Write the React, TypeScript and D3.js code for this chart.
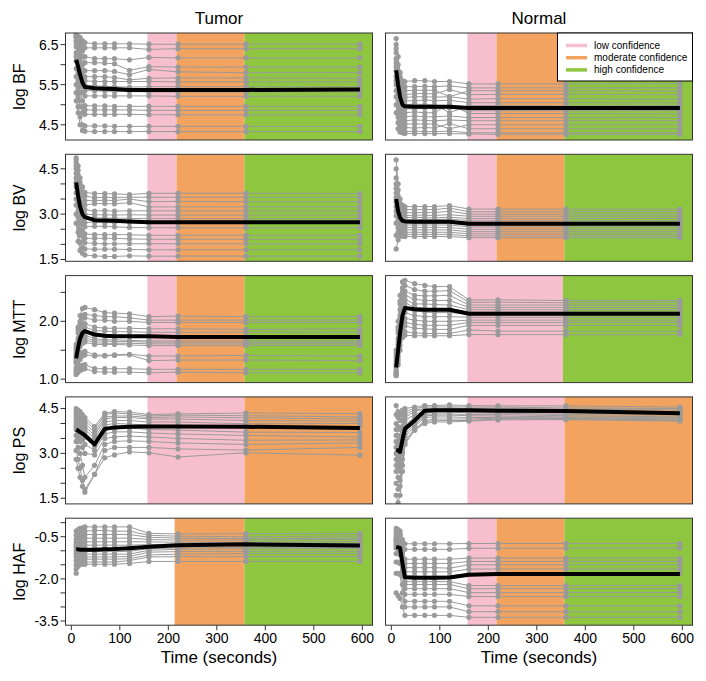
import React from 'react';
import * as d3 from 'd3';

// ---------- data ----------
const TIMES = [10, 14, 18, 23, 28, 48, 69, 89, 120, 160, 220, 360, 595];
const X_DOMAIN = [-12, 621];
const X_TICKS = [0, 100, 200, 300, 400, 500, 600];
const COLUMNS = ['Tumor', 'Normal'];
const LEVELS = ['low confidence', 'moderate confidence', 'high confidence'];
const LEVEL_COLORS = ['#F7BFCE', '#F2A35F', '#8EC640'];

const Y_DOMAIN_BF = [4.12, 6.79];
const Y_DOMAIN_BV = [1.44, 4.98];
const Y_DOMAIN_MTT = [0.94, 2.79];
const Y_DOMAIN_PS = [1.31, 4.89];
const Y_DOMAIN_HAF = [-3.65, 0.16];

const TICKS_BF = [4.5, 5.0, 5.5, 6.0, 6.5];
const LABELS_BF = [4.5, 5.5, 6.5];
const TICKS_BV = [1.5, 2.0, 2.5, 3.0, 3.5, 4.0, 4.5];
const LABELS_BV = [1.5, 3.0, 4.5];
const TICKS_MTT = [1.0, 1.5, 2.0, 2.5];
const LABELS_MTT = [1.0, 2.0];
const TICKS_PS = [1.5, 2.0, 2.5, 3.0, 3.5, 4.0, 4.5];
const LABELS_PS = [1.5, 3.0, 4.5];
const TICKS_HAF = [-3.5, -3.0, -2.5, -2.0, -1.5, -1.0, -0.5, 0.0];
const LABELS_HAF = [-3.5, -2.0, -0.5];

// zones: [start, end, level index]
const TUMOR_BF_ZONES = [[157, 217, 0], [217, 357, 1], [357, 621, 2]];
const TUMOR_BV_ZONES = [[157, 217, 0], [217, 357, 1], [357, 621, 2]];
const TUMOR_MTT_ZONES = [[157, 217, 0], [217, 357, 1], [357, 621, 2]];
const TUMOR_PS_ZONES = [[157, 357, 0], [357, 621, 1]];
const TUMOR_HAF_ZONES = [[213, 357, 1], [357, 621, 2]];
const NORMAL_BF_ZONES = [[157, 217, 0], [217, 357, 1], [357, 621, 2]];
const NORMAL_BV_ZONES = [[157, 217, 0], [217, 357, 1], [357, 621, 2]];
const NORMAL_MTT_ZONES = [[157, 354, 0], [354, 621, 2]];
const NORMAL_PS_ZONES = [[157, 357, 0], [357, 621, 1]];
const NORMAL_HAF_ZONES = [[157, 217, 0], [217, 357, 1], [357, 621, 2]];

const TUMOR_BF = [
  [6.72, 6.70, 6.68, 6.60, 6.55, 6.52, 6.52, 6.52, 6.52, 6.51, 6.51, 6.51, 6.51],
  [6.75, 6.70, 6.60, 6.50, 6.42, 6.42, 6.42, 6.42, 6.42, 6.38, 6.40, 6.40, 6.40],
  [6.70, 6.60, 6.50, 6.35, 6.20, 6.15, 6.15, 6.15, 6.12, 6.18, 6.17, 6.17, 6.17],
  [6.68, 6.55, 6.40, 6.20, 6.05, 6.05, 6.04, 6.02, 5.86, 5.95, 5.94, 5.94, 5.94],
  [6.60, 6.45, 6.25, 6.00, 5.85, 5.85, 5.85, 5.83, 5.75, 5.88, 5.82, 5.80, 5.80],
  [6.55, 6.30, 6.10, 5.85, 5.70, 5.70, 5.70, 5.68, 5.62, 5.66, 5.67, 5.67, 5.66],
  [6.45, 6.20, 5.95, 5.75, 5.60, 5.58, 5.58, 5.58, 5.58, 5.58, 5.57, 5.57, 5.57],
  [6.30, 6.05, 5.80, 5.60, 5.48, 5.47, 5.46, 5.45, 5.44, 5.45, 5.45, 5.45, 5.45],
  [6.20, 5.90, 5.60, 5.45, 5.35, 5.35, 5.34, 5.33, 5.33, 5.32, 5.32, 5.32, 5.32],
  [6.10, 5.80, 5.50, 5.30, 5.22, 5.22, 5.22, 5.22, 5.22, 5.22, 5.21, 5.21, 5.21],
  [5.90, 5.60, 5.30, 5.10, 4.98, 4.97, 4.97, 4.96, 4.96, 4.96, 4.96, 4.96, 4.96],
  [5.70, 5.40, 5.10, 4.95, 4.87, 4.87, 4.87, 4.87, 4.87, 4.86, 4.86, 4.86, 4.86],
  [5.50, 5.20, 4.95, 4.80, 4.76, 4.76, 4.76, 4.76, 4.76, 4.75, 4.75, 4.75, 4.75],
  [5.30, 4.95, 4.70, 4.50, 4.47, 4.47, 4.47, 4.46, 4.46, 4.46, 4.46, 4.46, 4.46],
  [5.10, 4.80, 4.50, 4.36, 4.34, 4.33, 4.33, 4.33, 4.33, 4.33, 4.33, 4.33, 4.33],
];
const TUMOR_BF_MEAN = [6.12, 5.95, 5.75, 5.55, 5.44, 5.41, 5.40, 5.39, 5.37, 5.37, 5.37, 5.37, 5.38];

const NORMAL_BF = [
  [6.65, 6.20, 5.80, 5.60, 5.58, 5.60, 5.60, 5.58, 5.58, 5.52, 5.52, 5.52, 5.53],
  [6.50, 6.00, 5.70, 5.50, 5.45, 5.45, 5.46, 5.45, 5.47, 5.42, 5.42, 5.42, 5.42],
  [6.40, 5.85, 5.55, 5.40, 5.35, 5.36, 5.36, 5.36, 5.20, 5.35, 5.35, 5.35, 5.34],
  [6.30, 5.75, 5.45, 5.30, 5.25, 5.28, 5.28, 5.27, 5.38, 5.25, 5.26, 5.26, 5.25],
  [6.15, 5.60, 5.35, 5.20, 5.18, 5.20, 5.20, 5.19, 5.20, 5.14, 5.15, 5.15, 5.14],
  [6.05, 5.50, 5.25, 5.12, 5.10, 5.10, 5.12, 5.10, 5.11, 5.05, 5.05, 5.05, 5.05],
  [5.95, 5.40, 5.15, 5.02, 5.00, 5.02, 5.00, 5.00, 4.80, 4.98, 4.98, 4.97, 4.98],
  [5.85, 5.30, 5.05, 4.92, 4.90, 4.90, 4.92, 4.90, 4.92, 4.85, 4.85, 4.85, 4.85],
  [5.70, 5.20, 4.95, 4.82, 4.80, 4.82, 4.80, 4.80, 5.02, 4.78, 4.78, 4.78, 4.77],
  [5.60, 5.10, 4.85, 4.72, 4.70, 4.72, 4.70, 4.70, 4.72, 4.68, 4.68, 4.68, 4.68],
  [5.50, 5.00, 4.75, 4.62, 4.60, 4.62, 4.61, 4.60, 4.62, 4.60, 4.60, 4.60, 4.60],
  [5.35, 4.85, 4.62, 4.55, 4.52, 4.52, 4.52, 4.52, 4.40, 4.50, 4.50, 4.50, 4.50],
  [5.20, 4.70, 4.50, 4.45, 4.43, 4.42, 4.43, 4.42, 4.53, 4.40, 4.40, 4.40, 4.40],
  [5.00, 4.55, 4.40, 4.35, 4.33, 4.34, 4.33, 4.33, 4.34, 4.30, 4.30, 4.30, 4.30],
  [4.80, 4.40, 4.32, 4.30, 4.28, 4.28, 4.28, 4.28, 4.28, 4.27, 4.26, 4.26, 4.26],
];
const NORMAL_BF_MEAN = [5.86, 5.50, 5.20, 5.00, 4.96, 4.95, 4.95, 4.95, 4.95, 4.92, 4.92, 4.92, 4.92];

const TUMOR_BV = [
  [4.86, 4.60, 4.20, 3.90, 3.72, 3.68, 3.68, 3.67, 3.65, 3.69, 3.69, 3.69, 3.68],
  [4.80, 4.45, 4.05, 3.75, 3.60, 3.55, 3.56, 3.55, 3.56, 3.56, 3.56, 3.56, 3.56],
  [4.70, 4.30, 3.90, 3.60, 3.45, 3.45, 3.46, 3.45, 3.50, 3.41, 3.42, 3.41, 3.41],
  [4.60, 4.15, 3.70, 3.40, 3.30, 3.35, 3.35, 3.34, 3.38, 3.24, 3.24, 3.24, 3.24],
  [4.50, 4.00, 3.55, 3.25, 3.15, 3.10, 3.12, 3.10, 3.11, 3.11, 3.11, 3.11, 3.11],
  [4.35, 3.85, 3.40, 3.10, 3.00, 2.98, 2.98, 2.97, 2.98, 2.97, 2.97, 2.97, 2.97],
  [4.20, 3.70, 3.25, 2.95, 2.88, 2.88, 2.87, 2.87, 2.86, 2.85, 2.85, 2.85, 2.85],
  [4.05, 3.50, 3.10, 2.80, 2.72, 2.74, 2.72, 2.72, 2.72, 2.70, 2.70, 2.70, 2.70],
  [3.90, 3.35, 2.90, 2.65, 2.58, 2.60, 2.60, 2.58, 2.56, 2.55, 2.55, 2.55, 2.55],
  [3.70, 3.10, 2.70, 2.45, 2.35, 2.32, 2.32, 2.32, 2.32, 2.30, 2.30, 2.30, 2.30],
  [3.50, 2.90, 2.50, 2.30, 2.20, 2.20, 2.20, 2.20, 2.18, 2.17, 2.17, 2.17, 2.17],
  [3.30, 2.70, 2.30, 2.10, 2.05, 2.03, 2.02, 2.02, 2.02, 2.02, 2.02, 2.02, 2.02],
  [3.00, 2.40, 2.05, 1.90, 1.85, 1.84, 1.84, 1.84, 1.83, 1.82, 1.82, 1.82, 1.82],
  [2.70, 2.10, 1.80, 1.70, 1.65, 1.62, 1.60, 1.60, 1.62, 1.61, 1.61, 1.61, 1.61],
];
const TUMOR_BV_MEAN = [4.05, 3.60, 3.25, 3.00, 2.90, 2.80, 2.79, 2.78, 2.76, 2.73, 2.73, 2.73, 2.73];

const NORMAL_BV = [
  [4.80, 4.00, 3.50, 3.30, 3.25, 3.25, 3.25, 3.25, 3.28, 3.17, 3.17, 3.17, 3.17],
  [4.50, 3.80, 3.35, 3.20, 3.15, 3.15, 3.15, 3.15, 3.20, 3.08, 3.08, 3.08, 3.08],
  [4.20, 3.60, 3.20, 3.10, 3.05, 3.05, 3.05, 3.05, 3.10, 3.00, 3.00, 3.00, 3.00],
  [4.00, 3.45, 3.10, 3.00, 2.95, 2.97, 2.96, 2.96, 2.98, 2.93, 2.93, 2.93, 2.93],
  [3.85, 3.30, 3.00, 2.92, 2.88, 2.90, 2.88, 2.88, 2.90, 2.85, 2.85, 2.85, 2.86],
  [3.70, 3.20, 2.92, 2.85, 2.82, 2.82, 2.82, 2.82, 2.84, 2.78, 2.78, 2.78, 2.78],
  [3.55, 3.10, 2.85, 2.78, 2.75, 2.76, 2.76, 2.76, 2.76, 2.72, 2.72, 2.72, 2.72],
  [3.40, 3.00, 2.78, 2.72, 2.70, 2.70, 2.70, 2.70, 2.70, 2.65, 2.65, 2.65, 2.65],
  [3.25, 2.90, 2.72, 2.66, 2.64, 2.64, 2.64, 2.64, 2.64, 2.58, 2.58, 2.58, 2.58],
  [3.10, 2.80, 2.62, 2.58, 2.56, 2.56, 2.56, 2.56, 2.56, 2.50, 2.50, 2.50, 2.50],
  [2.95, 2.70, 2.55, 2.50, 2.48, 2.48, 2.48, 2.48, 2.48, 2.42, 2.42, 2.42, 2.42],
  [2.70, 2.55, 2.46, 2.42, 2.40, 2.40, 2.40, 2.40, 2.40, 2.35, 2.35, 2.35, 2.35],
  [2.30, 2.40, 2.36, 2.34, 2.33, 2.33, 2.33, 2.33, 2.33, 2.28, 2.28, 2.28, 2.28],
  [1.85, 2.15, 2.28, 2.27, 2.26, 2.26, 2.26, 2.26, 2.26, 2.22, 2.22, 2.22, 2.22],
];
const NORMAL_BV_MEAN = [3.50, 3.10, 2.88, 2.78, 2.76, 2.75, 2.75, 2.75, 2.75, 2.68, 2.68, 2.68, 2.68];

const TUMOR_MTT = [
  [1.60, 1.90, 2.10, 2.22, 2.24, 2.20, 2.15, 2.14, 2.13, 2.08, 2.09, 2.08, 2.08],
  [1.55, 1.85, 2.00, 2.10, 2.12, 2.10, 2.08, 2.08, 2.06, 2.02, 2.02, 2.02, 2.02],
  [1.50, 1.80, 1.95, 2.05, 2.06, 2.02, 2.02, 2.00, 2.00, 1.98, 1.98, 1.98, 1.98],
  [1.45, 1.70, 1.85, 1.95, 1.96, 1.90, 1.88, 1.88, 1.88, 1.87, 1.87, 1.86, 1.87],
  [1.42, 1.65, 1.80, 1.88, 1.90, 1.84, 1.83, 1.82, 1.82, 1.81, 1.81, 1.81, 1.81],
  [1.38, 1.60, 1.72, 1.80, 1.82, 1.76, 1.75, 1.74, 1.74, 1.73, 1.73, 1.73, 1.73],
  [1.35, 1.55, 1.68, 1.75, 1.76, 1.70, 1.68, 1.68, 1.67, 1.66, 1.66, 1.66, 1.66],
  [1.32, 1.50, 1.62, 1.70, 1.72, 1.66, 1.66, 1.65, 1.65, 1.64, 1.64, 1.64, 1.64],
  [1.30, 1.48, 1.60, 1.66, 1.68, 1.63, 1.62, 1.62, 1.62, 1.61, 1.61, 1.61, 1.61],
  [1.28, 1.45, 1.56, 1.62, 1.64, 1.60, 1.60, 1.60, 1.59, 1.58, 1.58, 1.58, 1.58],
  [1.20, 1.32, 1.42, 1.46, 1.48, 1.42, 1.41, 1.42, 1.43, 1.40, 1.40, 1.41, 1.40],
  [1.16, 1.26, 1.34, 1.40, 1.42, 1.40, 1.40, 1.41, 1.42, 1.32, 1.33, 1.33, 1.32],
  [1.12, 1.18, 1.22, 1.24, 1.25, 1.18, 1.18, 1.18, 1.18, 1.17, 1.17, 1.17, 1.17],
  [1.08, 1.12, 1.15, 1.17, 1.18, 1.13, 1.12, 1.12, 1.12, 1.11, 1.12, 1.11, 1.11],
];
const TUMOR_MTT_MEAN = [1.36, 1.55, 1.70, 1.80, 1.83, 1.77, 1.75, 1.74, 1.74, 1.74, 1.73, 1.73, 1.73];

const NORMAL_MTT = [
  [1.50, 2.00, 2.45, 2.68, 2.71, 2.65, 2.62, 2.60, 2.60, 2.37, 2.37, 2.36, 2.36],
  [1.45, 1.90, 2.35, 2.58, 2.62, 2.55, 2.52, 2.52, 2.53, 2.33, 2.33, 2.32, 2.33],
  [1.40, 1.85, 2.30, 2.50, 2.52, 2.45, 2.44, 2.44, 2.45, 2.28, 2.28, 2.28, 2.28],
  [1.35, 1.80, 2.20, 2.42, 2.45, 2.38, 2.36, 2.36, 2.36, 2.24, 2.24, 2.24, 2.24],
  [1.30, 1.70, 2.10, 2.35, 2.38, 2.30, 2.30, 2.29, 2.28, 2.20, 2.20, 2.20, 2.20],
  [1.25, 1.65, 2.05, 2.28, 2.32, 2.24, 2.22, 2.22, 2.22, 2.16, 2.16, 2.16, 2.16],
  [1.20, 1.60, 2.00, 2.22, 2.25, 2.18, 2.16, 2.15, 2.15, 2.13, 2.13, 2.13, 2.13],
  [1.15, 1.50, 1.90, 2.12, 2.15, 2.10, 2.08, 2.08, 2.08, 2.07, 2.07, 2.07, 2.07],
  [1.12, 1.45, 1.80, 2.02, 2.05, 2.02, 2.00, 2.00, 2.00, 2.02, 2.02, 2.02, 2.02],
  [1.10, 1.40, 1.72, 1.95, 1.98, 1.95, 1.93, 1.93, 1.93, 1.98, 1.98, 1.98, 1.98],
  [1.08, 1.35, 1.65, 1.88, 1.92, 1.88, 1.87, 1.86, 1.86, 1.93, 1.93, 1.93, 1.93],
  [1.07, 1.30, 1.58, 1.80, 1.82, 1.80, 1.79, 1.79, 1.79, 1.85, 1.83, 1.83, 1.83],
  [1.06, 1.25, 1.50, 1.72, 1.76, 1.75, 1.75, 1.75, 1.75, 1.77, 1.77, 1.77, 1.77],
];
const NORMAL_MTT_MEAN = [1.20, 1.50, 1.80, 2.10, 2.23, 2.21, 2.20, 2.20, 2.20, 2.13, 2.13, 2.13, 2.13];

const TUMOR_PS = [
  [4.50, 4.45, 4.40, 4.30, 4.20, 3.90, 4.35, 4.40, 4.38, 4.30, 4.32, 4.35, 4.33],
  [4.40, 4.35, 4.30, 4.20, 4.10, 3.80, 4.30, 4.35, 4.32, 4.25, 4.28, 4.26, 4.22],
  [4.30, 4.25, 4.20, 4.10, 4.00, 3.70, 4.22, 4.25, 4.25, 4.20, 4.22, 4.19, 4.15],
  [4.20, 4.15, 4.10, 4.00, 3.90, 3.60, 4.15, 4.20, 4.20, 4.15, 4.15, 4.10, 4.08],
  [4.10, 4.05, 4.00, 3.90, 3.80, 3.50, 4.05, 4.10, 4.10, 4.05, 4.05, 3.99, 4.00],
  [4.00, 3.95, 3.90, 3.80, 3.70, 3.40, 3.95, 4.00, 3.98, 3.95, 3.92, 3.88, 3.90],
  [3.90, 3.85, 3.80, 3.65, 3.55, 3.25, 3.80, 3.85, 3.85, 3.80, 3.78, 3.71, 3.70],
  [3.80, 3.70, 3.60, 3.45, 3.30, 3.10, 3.65, 3.72, 3.72, 3.68, 3.65, 3.60, 3.55],
  [3.60, 3.50, 3.40, 3.20, 3.00, 2.95, 3.50, 3.55, 3.58, 3.55, 3.50, 3.44, 3.45],
  [3.40, 3.20, 3.00, 2.60, 2.20, 2.60, 3.30, 3.40, 3.42, 3.40, 3.35, 3.30, 3.35],
  [3.10, 2.80, 2.50, 2.10, 1.80, 2.30, 3.10, 3.20, 3.20, 3.20, 3.15, 3.11, 3.20],
  [2.80, 2.50, 2.20, 1.90, 1.70, 2.30, 2.85, 2.95, 3.05, 3.02, 2.88, 3.02, 2.94],
];
const TUMOR_PS_MEAN = [3.80, 3.76, 3.71, 3.66, 3.60, 3.30, 3.82, 3.87, 3.89, 3.90, 3.90, 3.89, 3.85];

const NORMAL_PS = [
  [4.60, 4.40, 4.30, 4.45, 4.50, 4.55, 4.60, 4.60, 4.62, 4.60, 4.59, 4.59, 4.55],
  [4.30, 4.20, 4.10, 4.30, 4.40, 4.50, 4.55, 4.56, 4.56, 4.55, 4.55, 4.52, 4.50],
  [4.00, 3.90, 3.80, 4.10, 4.30, 4.45, 4.50, 4.52, 4.52, 4.50, 4.50, 4.48, 4.45],
  [3.80, 3.60, 3.50, 3.90, 4.20, 4.40, 4.48, 4.48, 4.50, 4.45, 4.45, 4.43, 4.40],
  [3.60, 3.40, 3.30, 3.70, 4.10, 4.30, 4.42, 4.45, 4.45, 4.42, 4.40, 4.39, 4.35],
  [3.40, 3.30, 3.20, 3.60, 3.95, 4.20, 4.40, 4.42, 4.42, 4.40, 4.38, 4.35, 4.30],
  [3.20, 3.10, 3.00, 3.45, 3.85, 4.10, 4.35, 4.38, 4.38, 4.36, 4.35, 4.30, 4.28],
  [3.00, 2.90, 2.80, 3.30, 3.75, 4.00, 4.30, 4.32, 4.32, 4.30, 4.30, 4.26, 4.22],
  [2.80, 2.70, 2.60, 3.20, 3.65, 3.95, 4.25, 4.28, 4.28, 4.26, 4.25, 4.22, 4.20],
  [2.60, 2.50, 2.40, 3.00, 3.55, 3.90, 4.20, 4.22, 4.22, 4.20, 4.20, 4.19, 4.15],
  [2.40, 2.20, 2.10, 2.80, 3.45, 3.80, 4.10, 4.15, 4.15, 4.15, 4.18, 4.17, 4.12],
  [2.00, 1.80, 1.90, 2.60, 3.35, 3.78, 4.05, 4.10, 4.10, 4.10, 4.15, 4.15, 4.10],
  [1.60, 1.35, 1.60, 2.40, 3.30, 3.77, 4.00, 4.05, 4.05, 4.08, 4.12, 4.13, 4.08],
];
const NORMAL_PS_MEAN = [3.12, 3.10, 3.05, 3.45, 3.82, 4.10, 4.43, 4.44, 4.44, 4.44, 4.43, 4.42, 4.34];

const TUMOR_HAF = [
  [-0.30, -0.25, -0.20, -0.18, -0.15, -0.15, -0.15, -0.15, -0.15, -0.38, -0.40, -0.39, -0.38],
  [-0.45, -0.40, -0.35, -0.30, -0.30, -0.28, -0.28, -0.30, -0.30, -0.45, -0.48, -0.50, -0.47],
  [-0.60, -0.50, -0.48, -0.45, -0.42, -0.42, -0.42, -0.42, -0.42, -0.52, -0.55, -0.57, -0.55],
  [-0.70, -0.62, -0.58, -0.55, -0.55, -0.55, -0.55, -0.55, -0.55, -0.60, -0.62, -0.62, -0.60],
  [-0.80, -0.72, -0.70, -0.68, -0.68, -0.68, -0.68, -0.68, -0.68, -0.68, -0.70, -0.70, -0.68],
  [-0.90, -0.85, -0.82, -0.80, -0.80, -0.80, -0.80, -0.80, -0.80, -0.78, -0.76, -0.74, -0.74],
  [-1.00, -0.95, -0.92, -0.92, -0.92, -0.92, -0.92, -0.92, -0.92, -0.85, -0.82, -0.80, -0.80],
  [-1.10, -1.05, -1.02, -1.02, -1.02, -1.03, -1.03, -1.03, -1.02, -0.92, -0.90, -0.88, -0.88],
  [-1.20, -1.15, -1.12, -1.12, -1.12, -1.12, -1.12, -1.12, -1.12, -0.98, -0.95, -0.93, -0.92],
  [-1.35, -1.25, -1.22, -1.22, -1.22, -1.22, -1.22, -1.22, -1.20, -1.05, -1.03, -1.02, -1.02],
  [-1.50, -1.35, -1.30, -1.30, -1.30, -1.30, -1.30, -1.30, -1.28, -1.15, -1.12, -1.10, -1.10],
  [-1.65, -1.45, -1.40, -1.40, -1.40, -1.40, -1.40, -1.40, -1.35, -1.22, -1.21, -1.21, -1.21],
  [-1.80, -1.55, -1.48, -1.48, -1.48, -1.48, -1.48, -1.48, -1.45, -1.38, -1.38, -1.38, -1.38],
];
const TUMOR_HAF_MEAN = [-0.95, -0.95, -0.96, -0.96, -0.96, -0.96, -0.95, -0.94, -0.91, -0.86, -0.80, -0.77, -0.81];

const NORMAL_HAF = [
  [-0.20, -0.25, -0.30, -0.60, -0.75, -0.75, -0.75, -0.75, -0.75, -0.74, -0.74, -0.74, -0.74],
  [-0.30, -0.35, -0.40, -0.70, -0.95, -0.95, -0.95, -0.95, -0.95, -0.91, -0.91, -0.91, -0.90],
  [-0.40, -0.42, -0.45, -0.90, -1.30, -1.30, -1.30, -1.30, -1.30, -1.26, -1.26, -1.26, -1.26],
  [-0.50, -0.50, -0.55, -1.00, -1.45, -1.45, -1.45, -1.45, -1.45, -1.38, -1.38, -1.38, -1.38],
  [-0.55, -0.60, -0.62, -1.10, -1.60, -1.60, -1.60, -1.60, -1.62, -1.50, -1.50, -1.50, -1.50],
  [-0.60, -0.65, -0.68, -1.20, -1.75, -1.75, -1.75, -1.75, -1.75, -1.65, -1.65, -1.65, -1.65],
  [-0.65, -0.70, -0.72, -1.30, -1.90, -1.90, -1.92, -1.90, -1.90, -1.81, -1.81, -1.81, -1.81],
  [-0.70, -0.72, -0.75, -1.40, -2.10, -2.10, -2.10, -2.10, -2.10, -2.24, -2.24, -2.24, -2.24],
  [-0.80, -0.82, -0.85, -1.50, -2.20, -2.20, -2.20, -2.20, -2.20, -2.35, -2.35, -2.35, -2.35],
  [-0.90, -0.92, -0.95, -1.70, -2.35, -2.35, -2.35, -2.35, -2.35, -2.49, -2.49, -2.49, -2.49],
  [-1.10, -1.10, -1.15, -1.90, -2.55, -2.55, -2.55, -2.55, -2.55, -2.63, -2.63, -2.63, -2.63],
  [-1.40, -1.40, -1.45, -2.20, -2.80, -2.80, -2.80, -2.80, -2.80, -2.96, -2.96, -2.96, -2.96],
  [-1.80, -1.80, -1.85, -2.50, -3.00, -3.00, -3.00, -3.00, -3.00, -3.17, -3.17, -3.17, -3.17],
  [-2.50, -2.60, -2.70, -3.00, -3.30, -3.30, -3.30, -3.30, -3.30, -3.37, -3.37, -3.37, -3.37],
];
const NORMAL_HAF_MEAN = [-0.86, -0.88, -0.90, -1.45, -1.94, -1.96, -1.96, -1.96, -1.95, -1.85, -1.83, -1.83, -1.83];

const ROWS = [
  { name: 'BF', domain: Y_DOMAIN_BF, ticks: TICKS_BF, labels: LABELS_BF,
    data: [TUMOR_BF, NORMAL_BF], means: [TUMOR_BF_MEAN, NORMAL_BF_MEAN], zones: [TUMOR_BF_ZONES, NORMAL_BF_ZONES] },
  { name: 'BV', domain: Y_DOMAIN_BV, ticks: TICKS_BV, labels: LABELS_BV,
    data: [TUMOR_BV, NORMAL_BV], means: [TUMOR_BV_MEAN, NORMAL_BV_MEAN], zones: [TUMOR_BV_ZONES, NORMAL_BV_ZONES] },
  { name: 'MTT', domain: Y_DOMAIN_MTT, ticks: TICKS_MTT, labels: LABELS_MTT,
    data: [TUMOR_MTT, NORMAL_MTT], means: [TUMOR_MTT_MEAN, NORMAL_MTT_MEAN], zones: [TUMOR_MTT_ZONES, NORMAL_MTT_ZONES] },
  { name: 'PS', domain: Y_DOMAIN_PS, ticks: TICKS_PS, labels: LABELS_PS,
    data: [TUMOR_PS, NORMAL_PS], means: [TUMOR_PS_MEAN, NORMAL_PS_MEAN], zones: [TUMOR_PS_ZONES, NORMAL_PS_ZONES] },
  { name: 'HAF', domain: Y_DOMAIN_HAF, ticks: TICKS_HAF, labels: LABELS_HAF,
    data: [TUMOR_HAF, NORMAL_HAF], means: [TUMOR_HAF_MEAN, NORMAL_HAF_MEAN], zones: [TUMOR_HAF_ZONES, NORMAL_HAF_ZONES] },
];

// ---------- layout ----------
const W = 706;
const H = 681;
const COL_X = [[65.5, 372.5], [385.5, 692.5]];
const ROW_TOP = 33;
const ROW_STEP = 121.3;
const ROW_H = 107;
const FONT = "Arial, 'Liberation Sans', Helvetica, sans-serif";
const GRAY = '#9a9a9a';

export default function App() {
  const xs = COL_X.map((r) => d3.scaleLinear().domain(X_DOMAIN).range(r));
  const fmt = (v: number) => v.toFixed(1);

  return (
    <svg width={W} height={H} style={{ position: 'absolute', left: 0, top: 0 }} fontFamily={FONT}>
      <rect x={0} y={0} width={W} height={H} fill="#fff" />
      <defs>
        {ROWS.map((row, ri) =>
          COL_X.map((cx, ci) => (
            <clipPath id={`clip-${ri}-${ci}`} key={`c${ri}-${ci}`}>
              <rect x={cx[0]} y={ROW_TOP + ri * ROW_STEP} width={cx[1] - cx[0]} height={ROW_H} />
            </clipPath>
          ))
        )}
      </defs>
      {COLUMNS.map((c, ci) => (
        <text key={c} x={(COL_X[ci][0] + COL_X[ci][1]) / 2} y={24} textAnchor="middle" fontSize={17} fill="#000">
          {c}
        </text>
      ))}
      {ROWS.map((row, ri) => {
        const top = ROW_TOP + ri * ROW_STEP;
        const y = d3.scaleLinear().domain(row.domain).range([top + ROW_H, top]);
        return (
          <g key={row.name}>
            {COL_X.map((cx, ci) => {
              const x = xs[ci];
              const line = d3.line<number>().x((_, i) => x(TIMES[i])).y((v) => y(v));
              return (
                <g key={ci}>
                  <g clipPath={`url(#clip-${ri}-${ci})`}>
                    {row.zones[ci].map((z, zi) => (
                      <rect key={zi} x={x(z[0])} y={top} width={x(z[1]) - x(z[0])} height={ROW_H} fill={LEVEL_COLORS[z[2]]} />
                    ))}
                    {row.data[ci].map((s, si) => (
                      <path key={`l${si}`} d={line(s) || ''} fill="none" stroke={GRAY} strokeWidth={1} />
                    ))}
                    {row.data[ci].map((s, si) =>
                      s.map((v, i) => <circle key={`p${si}-${i}`} cx={x(TIMES[i])} cy={y(v)} r={2.6} fill={GRAY} />)
                    )}
                    <path d={line(row.means[ci]) || ''} fill="none" stroke="#000" strokeWidth={4} strokeLinejoin="round" />
                  </g>
                  <rect x={cx[0]} y={top} width={cx[1] - cx[0]} height={ROW_H} fill="none" stroke="#333" strokeWidth={1} />
                  {ci === 0 && (
                    <g>
                      {row.ticks.map((t) => (
                        <line key={t} x1={cx[0] - 5} x2={cx[0]} y1={y(t)} y2={y(t)} stroke="#333" strokeWidth={1} />
                      ))}
                      {row.labels.map((t) => (
                        <text key={t} x={cx[0] - 7} y={y(t)} dy="0.35em" textAnchor="end" fontSize={14} fill="#000">
                          {fmt(t)}
                        </text>
                      ))}
                      <text
                        transform={`translate(${25},${top + ROW_H / 2}) rotate(-90)`}
                        textAnchor="middle"
                        fontSize={16}
                        fill="#000"
                      >
                        {`log ${row.name}`}
                      </text>
                    </g>
                  )}
                  {ri === ROWS.length - 1 && (
                    <g>
                      {X_TICKS.map((t) => (
                        <line key={t} x1={x(t)} x2={x(t)} y1={top + ROW_H} y2={top + ROW_H + 5} stroke="#333" strokeWidth={1} />
                      ))}
                      {X_TICKS.map((t) => (
                        <text key={t} x={x(t)} y={top + ROW_H + 18} textAnchor="middle" fontSize={14} fill="#000">
                          {t}
                        </text>
                      ))}
                      <text x={(cx[0] + cx[1]) / 2} y={663} textAnchor="middle" fontSize={17} fill="#000">
                        Time (seconds)
                      </text>
                    </g>
                  )}
                </g>
              );
            })}
          </g>
        );
      })}
      {/* legend */}
      <g>
        <rect x={557.5} y={ROW_TOP} width={COL_X[1][1] - 557.5} height={48} fill="#fff" stroke="#000" strokeWidth={1} />
        {LEVELS.map((l, i) => (
          <g key={l}>
            <line x1={566} x2={587} y1={ROW_TOP + 12.5 + i * 12.2} y2={ROW_TOP + 12.5 + i * 12.2} stroke={LEVEL_COLORS[i]} strokeWidth={3.5} />
            <text x={594} y={ROW_TOP + 12.5 + i * 12.2} dy="0.35em" fontSize={10} fill="#000">
              {l}
            </text>
          </g>
        ))}
      </g>
    </svg>
  );
}
